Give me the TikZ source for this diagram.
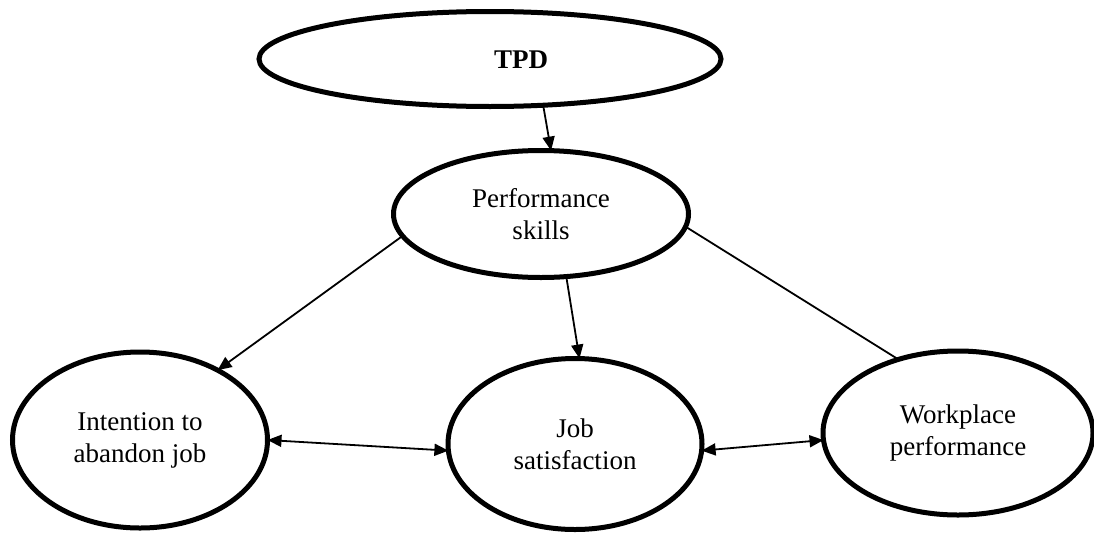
\documentclass[tikz,border=0pt]{standalone}
\usepackage{fontspec}
\setmainfont{Liberation Serif}
\usetikzlibrary{shapes.geometric,arrows.meta}
\begin{document}
\begin{tikzpicture}[x=1pt,y=-1pt,
  oval/.style={ellipse,draw,line width=5pt,inner sep=0pt,outer sep=0pt,
    font=\fontsize{27}{32}\selectfont,align=center},
  lbl/.style={font=\fontsize{27}{32}\selectfont,align=center,inner sep=0pt},
  conn/.style={line width=1.8pt},
  arr/.style={conn,-{Triangle[length=14pt,width=12pt]}},
  darr/.style={conn,{Triangle[length=14pt,width=12pt]}-{Triangle[length=14pt,width=12pt]}}]
\useasboundingbox (0,0) rectangle (1094,533);
\node[oval,minimum width=462pt,minimum height=95pt] (tpd) at (490,59) {};
\node[lbl,font=\fontsize{27}{32}\selectfont\bfseries] (tpdtext) at (521,60) {TPD};
\node[oval,minimum width=295pt,minimum height=127pt] (ps) at (541,214) {Performance\\skills};
\node[oval,minimum width=255pt,minimum height=176pt] (ia) at (140,440) {Intention to\\abandon job};
\node[oval,minimum width=254pt,minimum height=171pt] (js) at (575,444) {Job\\satisfaction};
\node[oval,minimum width=270pt,minimum height=164pt] (wp) at (958,433) {Workplace\\performance};
\draw[arr] (tpd.-41.4) -- (ps.81.7);
\draw[arr] (ps.189.3) -- (ia.42.3);
\draw[arr] (ps.-68.7) -- (js.87);
\draw[conn] (ps.-5.4) -- (wp.129.6);
\draw[darr] (ia.0) -- (js.183.5);
\draw[darr] (js.-3) -- (wp.183.8);
\end{tikzpicture}
\end{document}
